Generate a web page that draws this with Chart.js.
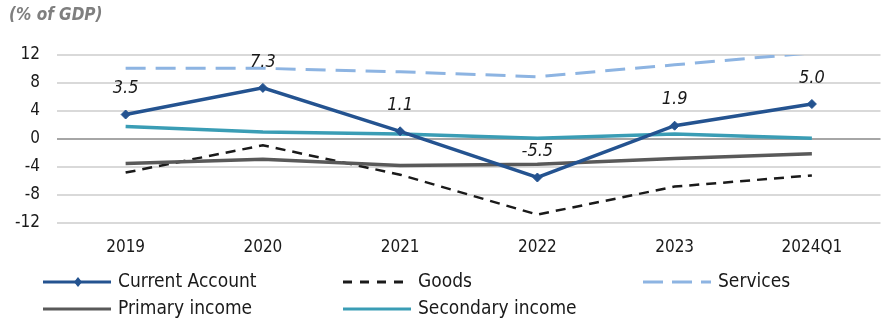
<!DOCTYPE html>
<html>
<head>
<meta charset="utf-8">
<script src="https://cdn.jsdelivr.net/npm/chart.js@4.4.1/dist/chart.umd.min.js"></script>
<style>
  html, body { margin: 0; padding: 0; background: #fff; overflow: hidden; }
  #wrap { width: 886px; height: 318px; position: relative; }
</style>
</head>
<body>
<div id="wrap"><canvas id="Chart1"></canvas></div>
<script>
const categories = ['2019', '2020', '2021', '2022', '2023', '2024Q1'];
const current_account = [3.5, 7.3, 1.1, -5.5, 1.9, 5.0];
const goods = [-4.8, -0.9, -5.1, -10.8, -6.8, -5.2];
const services = [10.1, 10.1, 9.6, 8.9, 10.6, 12.3];
const primary_income = [-3.5, -2.9, -3.8, -3.6, -2.8, -2.1];
const secondary_income = [1.8, 1.0, 0.7, 0.1, 0.7, 0.1];
const y_ticks = [-12, -8, -4, 0, 4, 8, 12];

const font_family = "'DejaVu Sans Condensed', 'DejaVu Sans', sans-serif";

// title, value labels and a 3-column legend drawn by hand
const extras = {
    id: 'extras',
    afterDraw(chart) {
        let ctx = chart.ctx;
        ctx.save();
        ctx.fillStyle = '#7f7f7f';
        ctx.font = 'italic bold 17px ' + font_family;
        ctx.textBaseline = 'middle';
        ctx.textAlign = 'left';
        ctx.fillText('(% of GDP)', 9, 16);

        // labels over Current Account
        let meta = chart.getDatasetMeta(0);
        ctx.fillStyle = '#1a1a1a';
        ctx.font = 'italic 18px ' + font_family;
        ctx.textAlign = 'center';
        meta.data.forEach((pt, i) => {
            ctx.fillText(current_account[i].toFixed(1), pt.x, pt.y - 26);
        });

        // legend
        let cols = [43, 343, 643];
        let rows = [282, 309];
        chart.data.datasets.forEach((ds, i) => {
            let x = cols[i % 3];
            let y = rows[Math.floor(i / 3)];
            ctx.strokeStyle = ds.borderColor;
            ctx.lineWidth = 3;
            ctx.setLineDash(ds.legendDash || []);
            ctx.beginPath();
            ctx.moveTo(x, y);
            ctx.lineTo(x + 68, y);
            ctx.stroke();
            ctx.setLineDash([]);
            if (ds.pointRadius > 0) {
                ctx.fillStyle = ds.borderColor;
                ctx.beginPath();
                ctx.moveTo(x + 35, y - 5);
                ctx.lineTo(x + 39, y);
                ctx.lineTo(x + 35, y + 5);
                ctx.lineTo(x + 31, y);
                ctx.closePath();
                ctx.fill();
            }
            ctx.fillStyle = '#1a1a1a';
            ctx.font = '19px ' + font_family;
            ctx.textAlign = 'left';
            ctx.fillText(ds.label, x + 75, y);
        });
        ctx.restore();
    }
};

let data = {
    labels: categories,
    datasets: [{
        label: 'Current Account',
        data: current_account,
        borderColor: '#245390',
        backgroundColor: '#245390',
        borderWidth: 3.5,
        pointStyle: 'rectRot',
        pointRadius: 4.5,
        pointBorderWidth: 1,
        order: 0
    }, {
        label: 'Goods',
        data: goods,
        borderColor: '#1a1a1a',
        backgroundColor: '#1a1a1a',
        borderWidth: 2.5,
        borderDash: [10, 7],
        legendDash: [9, 8],
        pointRadius: 0,
        order: 3
    }, {
        label: 'Services',
        data: services,
        borderColor: '#8db4e2',
        backgroundColor: '#8db4e2',
        borderWidth: 3,
        borderDash: [20, 10],
        legendDash: [20, 9],
        pointRadius: 0,
        order: 4
    }, {
        label: 'Primary income',
        data: primary_income,
        borderColor: '#595959',
        backgroundColor: '#595959',
        borderWidth: 3.5,
        pointRadius: 0,
        order: 2
    }, {
        label: 'Secondary income',
        data: secondary_income,
        borderColor: '#3a9db5',
        backgroundColor: '#3a9db5',
        borderWidth: 3.5,
        pointRadius: 0,
        order: 1
    }]
};

let config = {
    type: 'line',
    data: data,
    options: {
        responsive: true,
        maintainAspectRatio: false,
        animation: false,
        layout: { padding: { top: 55, bottom: 0, left: 0, right: 0 } },
        plugins: { legend: { display: false }, tooltip: { enabled: false } },
        scales: {
            x: {
                offset: true,
                afterFit: (axis) => { axis.height = 95; },
                grid: { display: false, drawTicks: false },
                border: { display: false },
                ticks: { color: '#1a1a1a', font: { size: 17, family: font_family }, padding: 14, maxRotation: 0 }
            },
            y: {
                min: -12,
                max: 12,
                afterFit: (axis) => { axis.width = 57; },
                afterBuildTicks: (axis) => { axis.ticks = y_ticks.map(v => ({ value: v })); },
                grid: {
                    color: (c) => c.tick.value === 0 ? '#a6a6a6' : '#d9d9d9',
                    lineWidth: 2,
                    drawTicks: false
                },
                border: { display: false },
                ticks: { color: '#1a1a1a', font: { size: 17, family: font_family }, padding: 17 }
            }
        }
    },
    plugins: [extras]
};

new Chart(document.getElementById('Chart1'), config);
</script>
</body>
</html>
